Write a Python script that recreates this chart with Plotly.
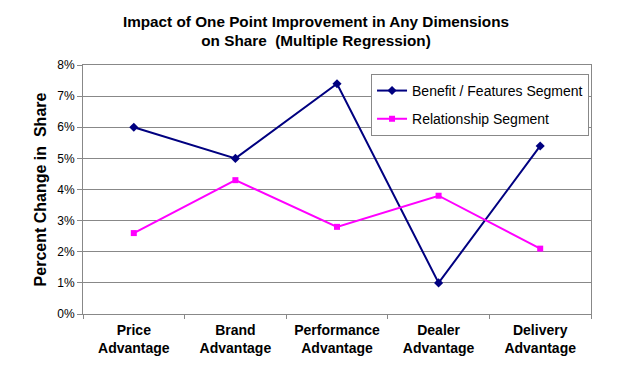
import plotly.graph_objects as go

categories = ["Price<br>Advantage", "Brand<br>Advantage", "Performance<br>Advantage",
              "Dealer<br>Advantage", "Delivery<br>Advantage"]
benefit = [0.060, 0.050, 0.074, 0.010, 0.054]
relationship = [0.026, 0.043, 0.028, 0.038, 0.021]
y_ticks = [0, 0.01, 0.02, 0.03, 0.04, 0.05, 0.06, 0.07, 0.08]

fig = go.Figure()
fig.add_trace(go.Scatter(x=categories, y=benefit, name="Benefit / Features Segment",
                         legendgroup="a",
                         mode="lines+markers", line=dict(color="#000080", width=2),
                         marker=dict(symbol="diamond", size=7, color="#000080")))
fig.add_trace(go.Scatter(x=categories, y=relationship, name="Relationship Segment",
                         legendgroup="b",
                         mode="lines+markers", line=dict(color="#FF00FF", width=2),
                         marker=dict(symbol="square", size=6, color="#FF00FF")))

fig.update_layout(
    width=630, height=367,
    margin=dict(l=75, r=47, t=57, b=61),
    paper_bgcolor="white", plot_bgcolor="white",
    font=dict(family="Liberation Sans, Arial, sans-serif", color="black"),
    title=dict(text="<b>Impact of One Point Improvement in Any Dimensions<br>on Share  (Multiple Regression)</b>",
               x=308 / 630, xanchor="center", xref="container",
               y=1 - 18.5 / 367, yanchor="middle",
               font=dict(size=15.3, color="black")),
    showlegend=True,
    legend=dict(x=0.567, y=0.964, xanchor="left", yanchor="top",
                bgcolor="white", bordercolor="#888888", borderwidth=1,
                font=dict(size=14), tracegroupgap=7, itemwidth=30,
                traceorder="grouped"),
    xaxis=dict(type="category", range=[-0.5, 4.5], tickson="boundaries",
               ticks="outside", ticklen=4, tickcolor="#888888",
               showline=True, linecolor="#888888", linewidth=1, mirror=True,
               showgrid=False, automargin=False, ticklabelstandoff=3,
               tickfont=dict(size=14, family="Liberation Sans, Arial, sans-serif"),
               ),
    yaxis=dict(range=[0, 0.08], tickvals=y_ticks, tickformat=".0%",
               ticks="outside", ticklen=5, tickcolor="#888888",
               showline=True, linecolor="#888888", linewidth=1, mirror=True,
               showgrid=True, gridcolor="#888888", gridwidth=1, automargin=False,
               tickfont=dict(size=12), zeroline=False,
               title=dict(text="<b>Percent Change in  Share</b>", font=dict(size=16), standoff=6)),
)
fig.update_xaxes(tickvals=categories,
                 ticktext=["<b>" + c + "</b>" for c in categories])
fig.write_html("out.html")
